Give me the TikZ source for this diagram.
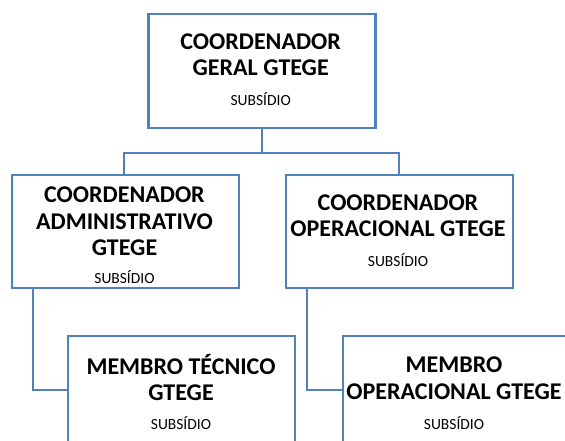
\documentclass[tikz,border=0pt]{standalone}
\usepackage{fontspec}
\setmainfont{Carlito}
\definecolor{boxblue}{RGB}{79,129,189}
\tikzset{
  orgbox/.style={draw=boxblue, line width=2.2pt, fill=white, inner sep=0pt,
    minimum width=227pt, anchor=north west},
  conn/.style={draw=boxblue, line width=2.2pt},
  ttl/.style={anchor=base, inner sep=0pt, font=\fontsize{24}{26}\selectfont\bfseries},
  sub/.style={anchor=base, inner sep=0pt, font=\fontsize{15.5}{17}\selectfont},
}
\begin{document}
\begin{tikzpicture}[x=1pt,y=-1pt]
\useasboundingbox (0,0) rectangle (565,441);
\clip (0,0) rectangle (565,441);
% boxes
\node[orgbox, minimum height=114pt] (top) at (147.3,12.7) {};
\node[orgbox, minimum height=113pt] (adm) at (11,174) {};
\node[orgbox, minimum height=113pt] (ope) at (284.5,174) {};
\node[orgbox, minimum height=140pt] (tec) at (66.7,335) {};
\node[orgbox, minimum height=140pt] (mop) at (341.7,335) {};
% junction coordinates
\coordinate (tj) at ([yshift=-55pt]tec.north west);
\coordinate (mj) at ([yshift=-55pt]mop.north west);
% connectors
\draw[conn] (top.south) -- ([yshift=-24pt]top.south) -| ([xshift=-1.5pt]adm.north);
\draw[conn] ([yshift=-24pt]top.south) -| (ope.north);
\draw[conn] ([xshift=22.3pt]adm.south west) |- (tj);
\draw[conn] ([xshift=22.3pt]ope.south west) |- (mj);
% texts
\node[ttl] (t1) at (260.7,49.5) {COORDENADOR};
\node[ttl] (t2) at (260.7,76) {GERAL GTEGE};
\node[sub] (t3) at (260.7,106) {SUBSÍDIO};
\node[ttl] (a1) at (124.5,202.7) {COORDENADOR};
\node[ttl] (a2) at (124.5,229.3) {ADMINISTRATIVO};
\node[ttl] (a3) at (124.5,255.7) {GTEGE};
\node[sub] (a4) at (124.5,283) {SUBSÍDIO};
\node[ttl] (o1) at (398,210) {COORDENADOR};
\node[ttl] (o2) at (398,236.7) {OPERACIONAL GTEGE};
\node[sub] (o3) at (398,266) {SUBSÍDIO};
\node[ttl] (m1) at (181,374.3) {MEMBRO TÉCNICO};
\node[ttl] (m2) at (181,400) {GTEGE};
\node[sub] (m3) at (181,429.3) {SUBSÍDIO};
\node[ttl] (p1) at (454,372.3) {MEMBRO};
\node[ttl] (p2) at (454,399.3) {OPERACIONAL GTEGE};
\node[sub] (p3) at (454,429.3) {SUBSÍDIO};
\end{tikzpicture}
\end{document}
